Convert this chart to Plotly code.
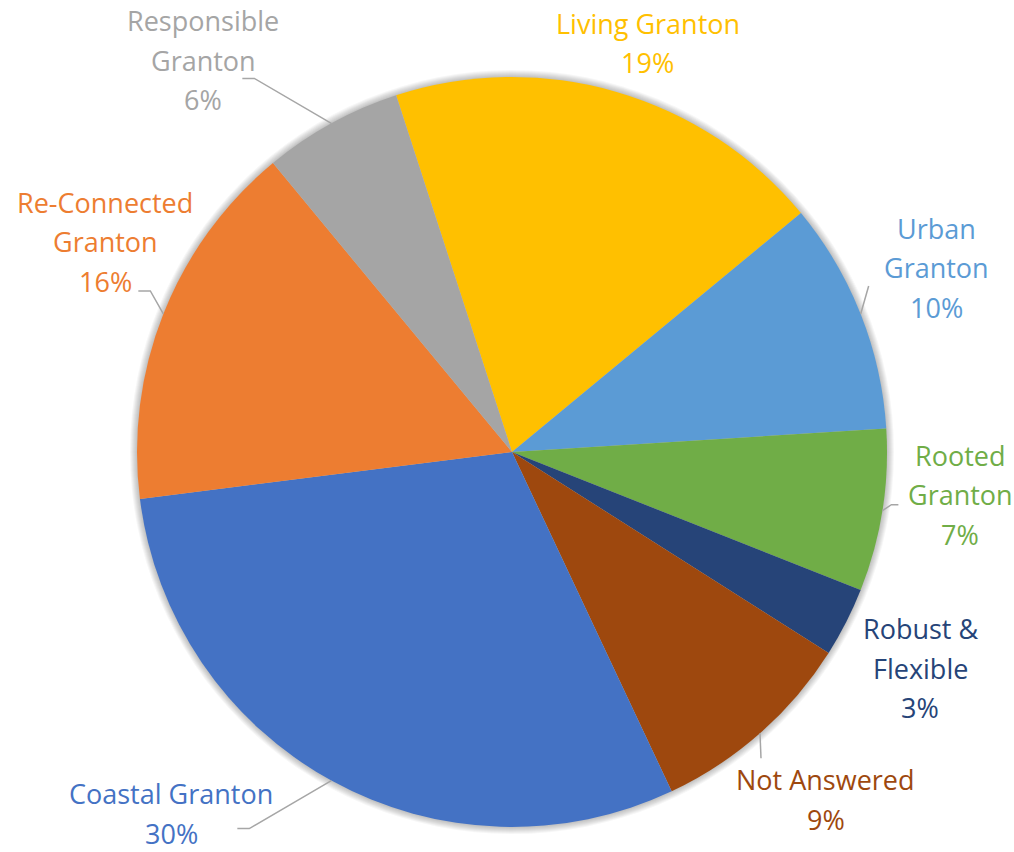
import math
import plotly.graph_objects as go

# Survey responses by vision theme (percent of respondents)
categories = ["Living Granton", "Urban Granton", "Rooted Granton", "Robust & Flexible",
              "Not Answered", "Coastal Granton", "Re-Connected Granton", "Responsible Granton"]
values = [19, 10, 7, 3, 9, 30, 16, 6]
label_lines = [["Living Granton"], ["Urban", "Granton"], ["Rooted", "Granton"], ["Robust &", "Flexible"],
               ["Not Answered"], ["Coastal Granton"], ["Re-Connected", "Granton"], ["Responsible", "Granton"]]
colors = ["#FFC000", "#5B9BD5", "#70AD47", "#264478", "#9E480E", "#4472C4", "#ED7D31", "#A5A5A5"]

# Page and pie geometry (pixels)
W, H = 1014, 852
CX, CY, R = 512, 452, 375
ROTATION = -18
FONT = "Open Sans"
FONT_SIZE = 27
LINE_GAP = 39.5

# Label centre offset from the slice's outer mid-point (px)
label_offsets = [(31, -49), (76, -46), (78, -16), (74, 46), (66, 66), (-160, 33), (-58, -72), (-128, -63)]
# Leader lines: (elbow, attach) offsets relative to the label centre, or None
leaders = [None, ((-68, 18), (-68, 18)), ((-69, 10), (-62, 10)), None,
           ((-65, -41), (-65, -41)), ((78, 15), (66, 15)), ((45, 49), (33, 49)), ((51, 18), (39, 18))]


def px(x):
    return x / W


def py(y):
    return 1 - y / H


fig = go.Figure(go.Pie(
    labels=categories,
    values=values,
    sort=False,
    direction="clockwise",
    rotation=ROTATION,
    marker=dict(colors=colors, line=dict(width=0)),
    textinfo="none",
    hoverinfo="label+percent",
    domain=dict(x=[px(CX - R), px(CX + R)], y=[py(CY + R), py(CY - R)]),
    showlegend=False,
))

shapes = []
# soft drop shadow around the pie
for k in range(7, 0, -1):
    rr = R + k
    shapes.append(dict(type="circle", xref="paper", yref="paper", layer="below",
                       x0=px(CX - rr), x1=px(CX + rr), y0=py(CY + rr), y1=py(CY - rr),
                       fillcolor="rgba(0,0,0,0.035)", line=dict(width=0)))

annotations = []
total = sum(values)
cum = 0.0
for i, v in enumerate(values):
    mid = ROTATION + (cum + v / 2) / total * 360
    cum += v
    a = math.radians(mid)
    ex, ey = CX + R * math.sin(a), CY - R * math.cos(a)
    lx, ly = ex + label_offsets[i][0], ey + label_offsets[i][1]
    lines = label_lines[i] + [f"{v}%"]
    n = len(lines)
    for j, t in enumerate(lines):
        yy = ly + (j - (n - 1) / 2) * LINE_GAP
        annotations.append(dict(x=px(lx), y=py(yy), xref="paper", yref="paper",
                                text=t, showarrow=False, xanchor="center", yanchor="middle",
                                font=dict(family=FONT, size=FONT_SIZE, color=colors[i])))
    if leaders[i] is not None:
        (bx, by), (tx, ty) = leaders[i]
        pts = [(ex, ey), (lx + bx, ly + by), (lx + tx, ly + ty)]
        path = "M " + " L ".join(f"{px(x):.5f},{py(y):.5f}" for x, y in pts)
        shapes.append(dict(type="path", xref="paper", yref="paper", path=path,
                           line=dict(color="#A6A6A6", width=1.5)))

fig.update_layout(
    width=W, height=H,
    margin=dict(l=0, r=0, t=0, b=0),
    paper_bgcolor="white",
    plot_bgcolor="white",
    shapes=shapes,
    annotations=annotations,
)

fig.write_html("out.html")
